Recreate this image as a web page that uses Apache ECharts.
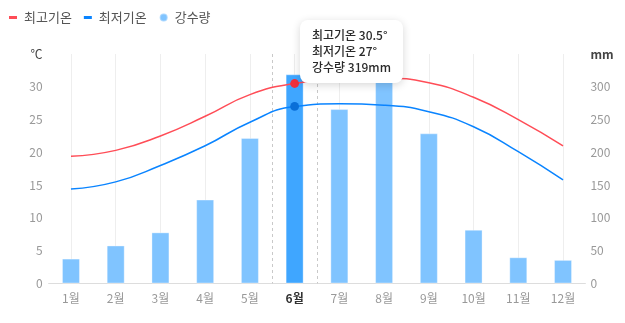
<!DOCTYPE html>
<html>
<head>
<meta charset="utf-8">
<script src="https://cdn.jsdelivr.net/npm/echarts@6/dist/echarts.min.js"></script>
<style>
  html, body { margin: 0; padding: 0; background: #fff; }
  #chart { width: 625px; height: 323px; }
</style>
</head>
<body>
<div id="chart"></div>
<script>
// Monthly climate: high / low temperature (°C) and precipitation (mm)
const categories = ['1월', '2월', '3월', '4월', '5월', '6월', '7월', '8월', '9월', '10월', '11월', '12월'];
const highTemps = [19.4, 20.3, 22.5, 25.5, 28.8, 30.5, 31.1, 31.3, 30.6, 28.4, 25.0, 21.0];
const lowTemps  = [14.4, 15.5, 18.0, 21.0, 24.6, 27, 27.4, 27.2, 26.2, 23.9, 20.1, 15.8];
const rainfall  = [38, 58, 78, 128, 222, 319, 266, 330, 229, 82, 40, 36];

// Axis scales
const tempAxis = { min: 0, max: 35, step: 5, unit: '℃' };
const rainAxis = { min: 0, max: 350, step: 50, unit: 'mm' };

// Month that is currently focused (tooltip + highlight)
const focusIndex = 5;

const FONT = "'Noto Sans CJK KR', 'Noto Sans', sans-serif";
const RED = '#ff4d57';
const BLUE = '#0a84ff';
const BAR = '#80c4ff';
const BAR_FOCUS = '#3fa6ff';

const chart = echarts.init(document.getElementById('chart'), null, { renderer: 'canvas' });

function unitLabel(max, unit) {
  return function (v) {
    return v === max ? '{u|' + unit + '}' : String(v);
  };
}

const option = {
  animation: false,
  textStyle: { fontFamily: FONT },
  legend: {
    left: 4,
    top: 6,
    itemWidth: 8,
    itemHeight: 8,
    itemGap: 12,
    textStyle: { fontSize: 13, color: '#555', padding: [0, 0, 0, 2] },
    data: [
      { name: '최고기온', icon: 'path://M0 0H8V3H0Z' },
      { name: '최저기온', icon: 'path://M0 0H8V3H0Z' },
      { name: '강수량', icon: 'circle' }
    ]
  },
  grid: { left: 48.6, right: 39.6, top: 54, bottom: 39.5, containLabel: false },
  tooltip: {
    trigger: 'axis',
    alwaysShowContent: true,
    showContent: true,
    transitionDuration: 0,
    axisPointer: { type: 'none' },
    backgroundColor: '#fff',
    borderWidth: 0,
    padding: [7, 12, 8, 12],
    extraCssText: 'border-radius:8px;box-shadow:0 2px 8px rgba(0,0,0,0.16);',
    textStyle: { fontFamily: FONT, fontSize: 12, color: '#333' },
    formatter: function (params) {
      const i = params[0].dataIndex;
      return '<div style="line-height:16px;font-weight:500;color:#2a2a2a">' +
        '최고기온 ' + highTemps[i] + '°<br>' +
        '최저기온 ' + lowTemps[i] + '°<br>' +
        '강수량 ' + rainfall[i] + 'mm</div>';
    },
    position: function () {
      const p = chart.convertToPixel({ xAxisIndex: 0, yAxisIndex: 0 }, [focusIndex, highTemps[focusIndex]]);
      return [p[0] + 5, p[1] - 64];
    }
  },
  xAxis: {
    type: 'category',
    data: categories.map(function (c, i) {
      return i === focusIndex ? { value: c, textStyle: { fontWeight: 'bold', color: '#333' } } : c;
    }),
    boundaryGap: true,
    axisLine: { lineStyle: { color: '#ddd' } },
    axisTick: { show: false },
    axisLabel: { color: '#999', fontSize: 12, margin: 9 },
    splitLine: { show: true, alignWithLabel: true, lineStyle: { color: '#eee' } }
  },
  yAxis: [
    {
      type: 'value',
      min: tempAxis.min, max: tempAxis.max, interval: tempAxis.step,
      axisLine: { show: false },
      axisTick: { show: false },
      splitLine: { show: false },
      axisLabel: {
        color: '#999', fontSize: 12, margin: 6,
        formatter: unitLabel(tempAxis.max, tempAxis.unit),
        rich: { u: { color: '#444', fontSize: 12, fontFamily: FONT } }
      }
    },
    {
      type: 'value',
      min: rainAxis.min, max: rainAxis.max, interval: rainAxis.step,
      axisLine: { show: false },
      axisTick: { show: false },
      splitLine: { show: false },
      axisLabel: {
        color: '#999', fontSize: 12, margin: 5,
        formatter: unitLabel(rainAxis.max, rainAxis.unit),
        rich: { u: { color: '#444', fontSize: 12, fontWeight: 'bold', fontFamily: FONT } }
      }
    }
  ],
  series: [
    {
      // dashed band edges around the focused month
      type: 'custom',
      silent: true,
      z: 1,
      xAxisIndex: 0,
      yAxisIndex: 0,
      tooltip: { show: false },
      data: [[focusIndex, 0]],
      renderItem: function (params, api) {
        const cx = api.coord([api.value(0), 0])[0];
        const half = api.size([1, 0])[0] / 2;
        const cs = params.coordSys;
        const style = { stroke: '#c9c9c9', lineWidth: 1, lineDash: [3, 3] };
        return {
          type: 'group',
          children: [
            { type: 'line', shape: { x1: Math.round(cx - half) + 0.5, y1: cs.y, x2: Math.round(cx - half) + 0.5, y2: cs.y + cs.height }, style: style },
            { type: 'line', shape: { x1: Math.round(cx + half) + 0.5, y1: cs.y, x2: Math.round(cx + half) + 0.5, y2: cs.y + cs.height }, style: style }
          ]
        };
      }
    },
    {
      name: '강수량',
      type: 'bar',
      yAxisIndex: 1,
      barWidth: 18,
      z: 2,
      itemStyle: { color: BAR, borderColor: 'rgba(255,255,255,0.35)', borderWidth: 1 },
      emphasis: { disabled: true },
      data: rainfall.map(function (v, i) {
        return i === focusIndex ? { value: v, itemStyle: { color: BAR_FOCUS } } : v;
      })
    },
    {
      name: '최고기온',
      type: 'line',
      yAxisIndex: 0,
      smooth: true,
      symbol: 'none',
      z: 3,
      color: RED,
      lineStyle: { color: RED, width: 1.5 },
      emphasis: { disabled: true },
      data: highTemps.map(function (v, i) {
        return i === focusIndex ? { value: v, symbol: 'circle', symbolSize: 8, itemStyle: { color: '#f0303b' } } : v;
      })
    },
    {
      name: '최저기온',
      type: 'line',
      yAxisIndex: 0,
      smooth: true,
      symbol: 'none',
      z: 3,
      color: BLUE,
      lineStyle: { color: BLUE, width: 1.5 },
      emphasis: { disabled: true },
      data: lowTemps.map(function (v, i) {
        return i === focusIndex ? { value: v, symbol: 'circle', symbolSize: 8, itemStyle: { color: '#0a6fd8' } } : v;
      })
    }
  ]
};

chart.setOption(option);
chart.dispatchAction({ type: 'showTip', seriesIndex: 2, dataIndex: focusIndex });
</script>
</body>
</html>
